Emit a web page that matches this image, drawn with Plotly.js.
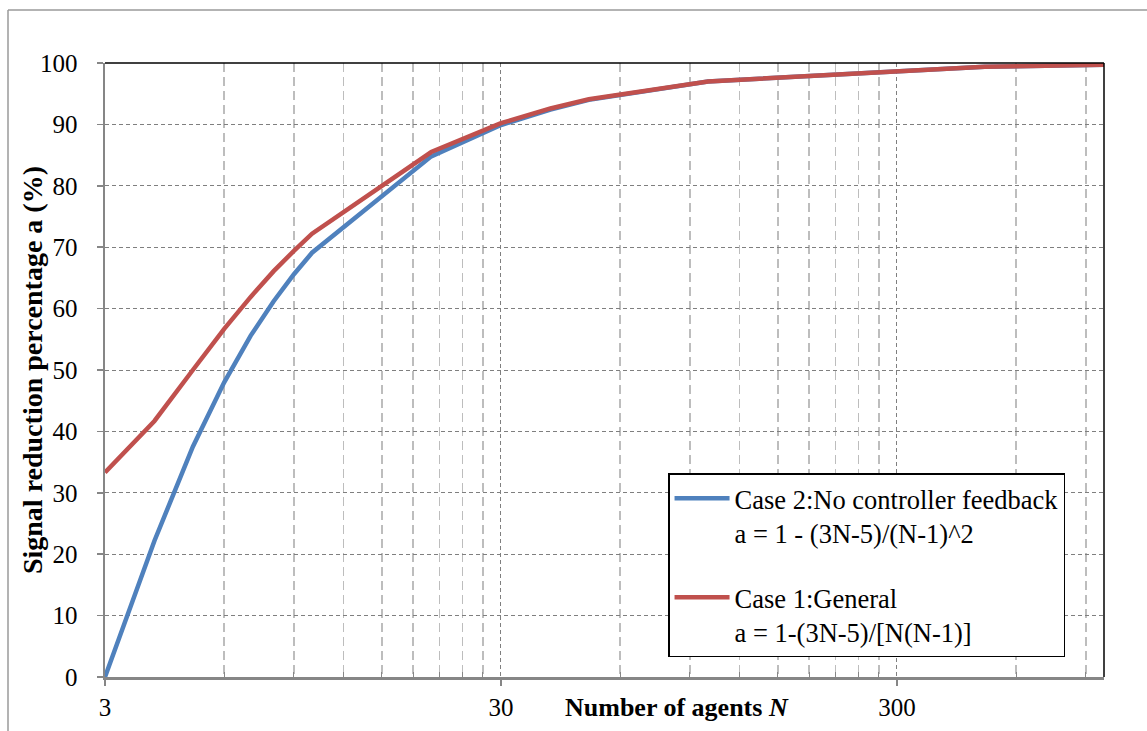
<!DOCTYPE html>
<html>
<head>
<meta charset="utf-8">
<script src="https://cdn.plot.ly/plotly-3.0.1.min.js"></script>
<style>
  html, body { margin: 0; padding: 0; background: #ffffff; }
  #chart { width: 1147px; height: 731px; }
</style>
</head>
<body>
<div id="chart"></div>
<script>
// Number of agents N
const agents = [3, 4, 5, 6, 7, 8, 9, 10, 20, 30, 40, 50, 100, 500, 1000];
// Case 2: No controller feedback (%)
const case2 = [0, 22.2, 37.5, 48.0, 55.6, 61.2, 65.6, 69.1, 84.8, 89.9, 92.4, 94.0, 97.0, 99.4, 99.7];
// Case 1: General (%)
const case1 = [33.3, 41.7, 50.0, 56.7, 61.9, 66.1, 69.4, 72.2, 85.5, 90.2, 92.6, 94.1, 97.0, 99.4, 99.7];

const case2Name = 'Case 2:No controller feedback<br>a = 1 - (3N-5)/(N-1)^2';
const case1Name = 'Case 1:General<br>a = 1-(3N-5)/[N(N-1)]';

const xMajorTicks = [3, 30, 300];
const xMajorLabels = ['3', '30', '300'];
const xMinorTicks = [6, 9, 12, 15, 18, 21, 24, 27, 60, 90, 120, 150, 180, 210, 240, 270, 600, 900];
const yTicks = [0, 10, 20, 30, 40, 50, 60, 70, 80, 90, 100];

const serif = "'Liberation Serif', 'Times New Roman', 'DejaVu Serif', serif";

const traces = [
  {
    x: agents, y: case2, type: 'scatter', mode: 'lines', name: case2Name,
    legendgroup: 'g2',
    line: { color: '#4F81BD', width: 4.5 }
  },
  {
    x: agents, y: case1, type: 'scatter', mode: 'lines', name: case1Name,
    legendgroup: 'g1',
    line: { color: '#C0504D', width: 4.5 }
  }
];

const layout = {
  width: 1147, height: 731,
  margin: { l: 105, r: 43, t: 63, b: 54, pad: 0 },
  paper_bgcolor: '#ffffff', plot_bgcolor: '#ffffff',
  font: { family: serif, size: 25, color: '#000000' },
  showlegend: true,
  legend: {
    x: 0.5636, y: 0.3322, xanchor: 'left', yanchor: 'top',
    bgcolor: '#ffffff', bordercolor: '#000000', borderwidth: 1.5,
    font: { family: serif, size: 26.5, color: '#000000' },
    valign: 'top', tracegroupgap: 27, traceorder: 'grouped',
    itemwidth: 55
  },
  xaxis: {
    type: 'log',
    range: [Math.log10(3), 3],
    tickmode: 'array', tickvals: xMajorTicks, ticktext: xMajorLabels,
    ticks: 'outside', ticklen: 6, tickwidth: 1.5, tickcolor: '#868686',
    ticklabelstandoff: 0,
    showgrid: true, gridcolor: '#7f7f7f', gridwidth: 1, griddash: '4px,3px',
    showline: true, linecolor: '#868686', linewidth: 2.5,
    zeroline: false,
    tickfont: { family: serif, size: 25, color: '#000000' },
    minor: {
      tickmode: 'array', tickvals: xMinorTicks,
      ticks: 'inside', ticklen: 5, tickwidth: 1, tickcolor: '#868686',
      showgrid: true, gridcolor: '#bdbdbd', gridwidth: 1.5, griddash: '9px,5px'
    },
    fixedrange: true
  },
  yaxis: {
    range: [0, 100],
    tickmode: 'array', tickvals: yTicks,
    ticks: 'outside', ticklen: 6, tickwidth: 1.5, tickcolor: '#868686',
    ticklabelstandoff: 14,
    showgrid: true, gridcolor: '#7f7f7f', gridwidth: 1, griddash: '4px,3px',
    showline: true, linecolor: '#868686', linewidth: 2.5,
    zeroline: false,
    tickfont: { family: serif, size: 25, color: '#000000' },
    fixedrange: true
  },
  shapes: [
    { type: 'line', xref: 'paper', yref: 'paper', x0: 0, x1: 1, y0: 1, y1: 1,
      line: { color: '#000000', width: 1.5 } },
    { type: 'line', xref: 'paper', yref: 'paper', x0: 1, x1: 1, y0: 0, y1: 1,
      line: { color: '#000000', width: 1.5 } },
    { type: 'line', xref: 'paper', yref: 'paper', x0: -0.0971, x1: -0.0971, y0: -0.1, y1: 1.0863,
      line: { color: '#9a9a9a', width: 1.5 } },
    { type: 'line', xref: 'paper', yref: 'paper', x0: -0.0971, x1: 1.06, y0: 1.0863, y1: 1.0863,
      line: { color: '#9a9a9a', width: 1.5 } }
  ],
  annotations: [
    {
      text: '<b>Number of agents <i>N</i></b>',
      xref: 'paper', yref: 'paper', x: 0.5726, y: -0.049,
      xanchor: 'center', yanchor: 'middle', showarrow: false,
      font: { family: serif, size: 26, color: '#000000' }
    },
    {
      text: '<b>Signal reduction percentage a (%)</b>',
      xref: 'paper', yref: 'paper', x: -0.073, y: 0.5,
      xanchor: 'center', yanchor: 'middle', showarrow: false, textangle: -90,
      font: { family: serif, size: 28, color: '#000000' }
    }
  ]
};

Plotly.newPlot('chart', traces, layout, { displayModeBar: false, staticPlot: true });
</script>
</body>
</html>
